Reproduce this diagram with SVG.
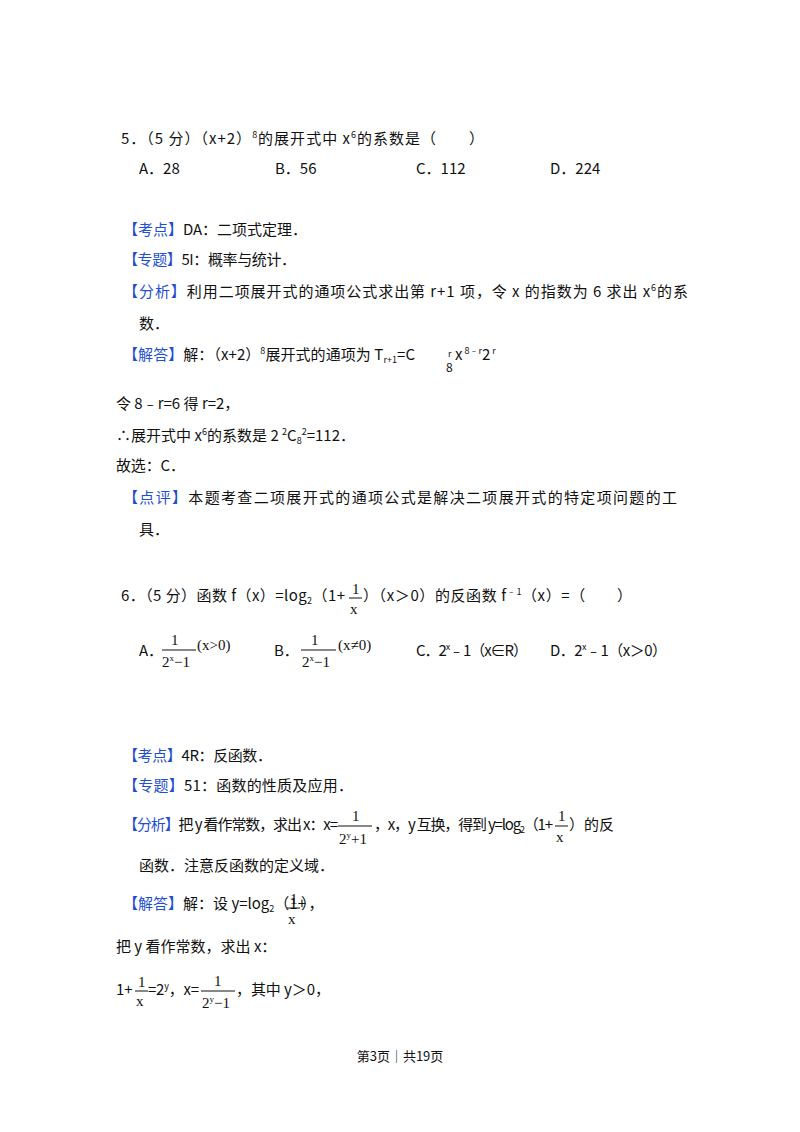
<svg xmlns="http://www.w3.org/2000/svg" width="800" height="1132" viewBox="0 0 800 1132">
<style>
text{font-family:"Noto Sans CJK SC","Noto Sans",sans-serif;font-size:15px;fill:#111}
.b{fill:#1f4fd1}
.s{font-size:9px}
.m{font-family:"Liberation Serif",serif;font-size:15px}
.ms{font-family:"Liberation Serif",serif;font-size:9px}
.f{font-size:12px}
line{stroke:#111;stroke-width:1}
</style>
<rect width="800" height="1132" fill="#fff"/>
<text x="121" y="144" textLength="363" lengthAdjust="spacing">5．（5 分）（x+2）<tspan class="s" dy="-6">8</tspan><tspan dy="6">的展开式中 x</tspan><tspan class="s" dy="-6">6</tspan><tspan dy="6">的系数是（　　）</tspan></text>
<text x="139" y="174">A．28</text><text x="275" y="174">B．56</text><text x="416" y="174">C．112</text><text x="550" y="174">D．224</text>
<text x="123" y="235" textLength="184" lengthAdjust="spacing"><tspan class="b">【考点】</tspan>DA：二项式定理．</text>
<text x="123" y="265" textLength="173" lengthAdjust="spacing"><tspan class="b">【专题】</tspan>5I：概率与统计．</text>
<text x="123" y="297" textLength="565" lengthAdjust="spacing"><tspan class="b">【分析】</tspan>利用二项展开式的通项公式求出第 r+1 项，令 x 的指数为 6 求出 x<tspan class="s" dy="-6">6</tspan><tspan dy="6">的系</tspan></text>
<text x="139" y="329">数．</text>
<text x="123" y="360" textLength="292" lengthAdjust="spacing"><tspan class="b">【解答】</tspan>解：（x+2）<tspan class="s" dy="-6">8</tspan><tspan dy="6">展开式的通项为 T</tspan><tspan class="s" dy="3">r+1</tspan><tspan dy="-3">=C</tspan></text>
<text x="448" y="357" class="s">r</text><text x="446" y="372" class="f">8</text>
<text x="455" y="360">x<tspan class="s" dy="-6"> 8﹣r</tspan><tspan dy="6">2</tspan><tspan class="s" dy="-6"> r</tspan></text>
<text x="116" y="409">令 8﹣r=6 得 r=2，</text>
<text x="116" y="441" textLength="239" lengthAdjust="spacing">∴展开式中 x<tspan class="s" dy="-6">6</tspan><tspan dy="6">的系数是 2 </tspan><tspan class="s" dy="-6">2</tspan><tspan dy="6">C</tspan><tspan class="s" dy="3">8</tspan><tspan class="s" dy="-9">2</tspan><tspan dy="6">=112．</tspan></text>
<text x="116" y="471" textLength="69" lengthAdjust="spacing">故选：C．</text>
<text x="123" y="503" textLength="554" lengthAdjust="spacing"><tspan class="b">【点评】</tspan>本题考查二项展开式的通项公式是解决二项展开式的特定项问题的工</text>
<text x="139" y="535">具．</text>

<text x="121" y="601" textLength="224" lengthAdjust="spacing">6．（5 分）函数 f（x）=log<tspan class="s" dy="3">2</tspan><tspan dy="-3">（1+</tspan></text>
<text x="352" y="594" class="m">1</text><line x1="349" y1="598" x2="362" y2="598"/><text x="350" y="614" class="m">x</text>
<text x="363" y="601" textLength="269" lengthAdjust="spacing">）（x＞0）的反函数 f<tspan class="s" dy="-6">﹣1</tspan><tspan dy="6">（x）=（　　）</tspan></text>
<text x="139" y="656">A．</text>
<text x="171" y="645" class="m">1</text><line x1="162" y1="650" x2="196" y2="650"/><text x="162" y="667" class="m">2<tspan class="ms" dy="-6">x</tspan><tspan dy="6">−1</tspan></text>
<text x="197" y="650" class="m">(x&gt;0)</text>
<text x="274" y="656">B．</text>
<text x="311" y="645" class="m">1</text><line x1="301" y1="650" x2="336" y2="650"/><text x="302" y="667" class="m">2<tspan class="ms" dy="-6">x</tspan><tspan dy="6">−1</tspan></text>
<text x="338" y="650" class="m">(x≠0)</text>
<text x="416" y="656" textLength="112" lengthAdjust="spacing">C．2<tspan class="s" dy="-6">x</tspan><tspan dy="6">﹣1（x∈R）</tspan></text>
<text x="550" y="656" textLength="117" lengthAdjust="spacing">D．2<tspan class="s" dy="-6">x</tspan><tspan dy="6">﹣1（x＞0）</tspan></text>

<text x="123" y="761" textLength="149" lengthAdjust="spacing"><tspan class="b">【考点】</tspan>4R：反函数．</text>
<text x="123" y="791" textLength="230" lengthAdjust="spacing"><tspan class="b">【专题】</tspan>51：函数的性质及应用．</text>
<text x="123" y="830" textLength="215" lengthAdjust="spacing"><tspan class="b">【分析】</tspan>把 y 看作常数，求出 x：x=</text>
<text x="352" y="821" class="m">1</text><line x1="338" y1="826" x2="372" y2="826"/><text x="339" y="844" class="m">2<tspan class="ms" dy="-6">y</tspan><tspan dy="6">+1</tspan></text>
<text x="374" y="830" textLength="179" lengthAdjust="spacing">，x，y 互换，得到 y=log<tspan class="s" dy="3">2</tspan><tspan dy="-3">（1+</tspan></text>
<text x="558" y="821" class="m">1</text><line x1="555" y1="826" x2="568" y2="826"/><text x="556" y="842" class="m">x</text>
<text x="569" y="830">）的反</text>
<text x="139" y="871">函数．注意反函数的定义域．</text>
<text x="123" y="909"><tspan class="b">【解答】</tspan>解：设 y=log<tspan class="s" dy="3">2</tspan><tspan dy="-3">（1+</tspan></text>
<text x="290" y="904" class="m">1</text><line x1="287" y1="908" x2="300" y2="908"/><text x="288" y="924" class="m">x</text>
<text x="301" y="909">），</text>
<text x="116" y="952">把 y 看作常数，求出 x：</text>
<text x="116" y="995">1+</text>
<text x="138" y="987" class="m">1</text><line x1="135" y1="991" x2="148" y2="991"/><text x="136" y="1006" class="m">x</text>
<text x="148" y="995" textLength="51" lengthAdjust="spacing">=2<tspan class="s" dy="-6">y</tspan><tspan dy="6">，x=</tspan></text>
<text x="214" y="986" class="m">1</text><line x1="201" y1="991" x2="235" y2="991"/><text x="202" y="1008" class="m">2<tspan class="ms" dy="-6">y</tspan><tspan dy="6">−1</tspan></text>
<text x="236" y="995" textLength="94" lengthAdjust="spacing">，其中 y＞0，</text>
<text x="400" y="1061" text-anchor="middle" style="font-size:13px">第3页｜共19页</text>
</svg>
